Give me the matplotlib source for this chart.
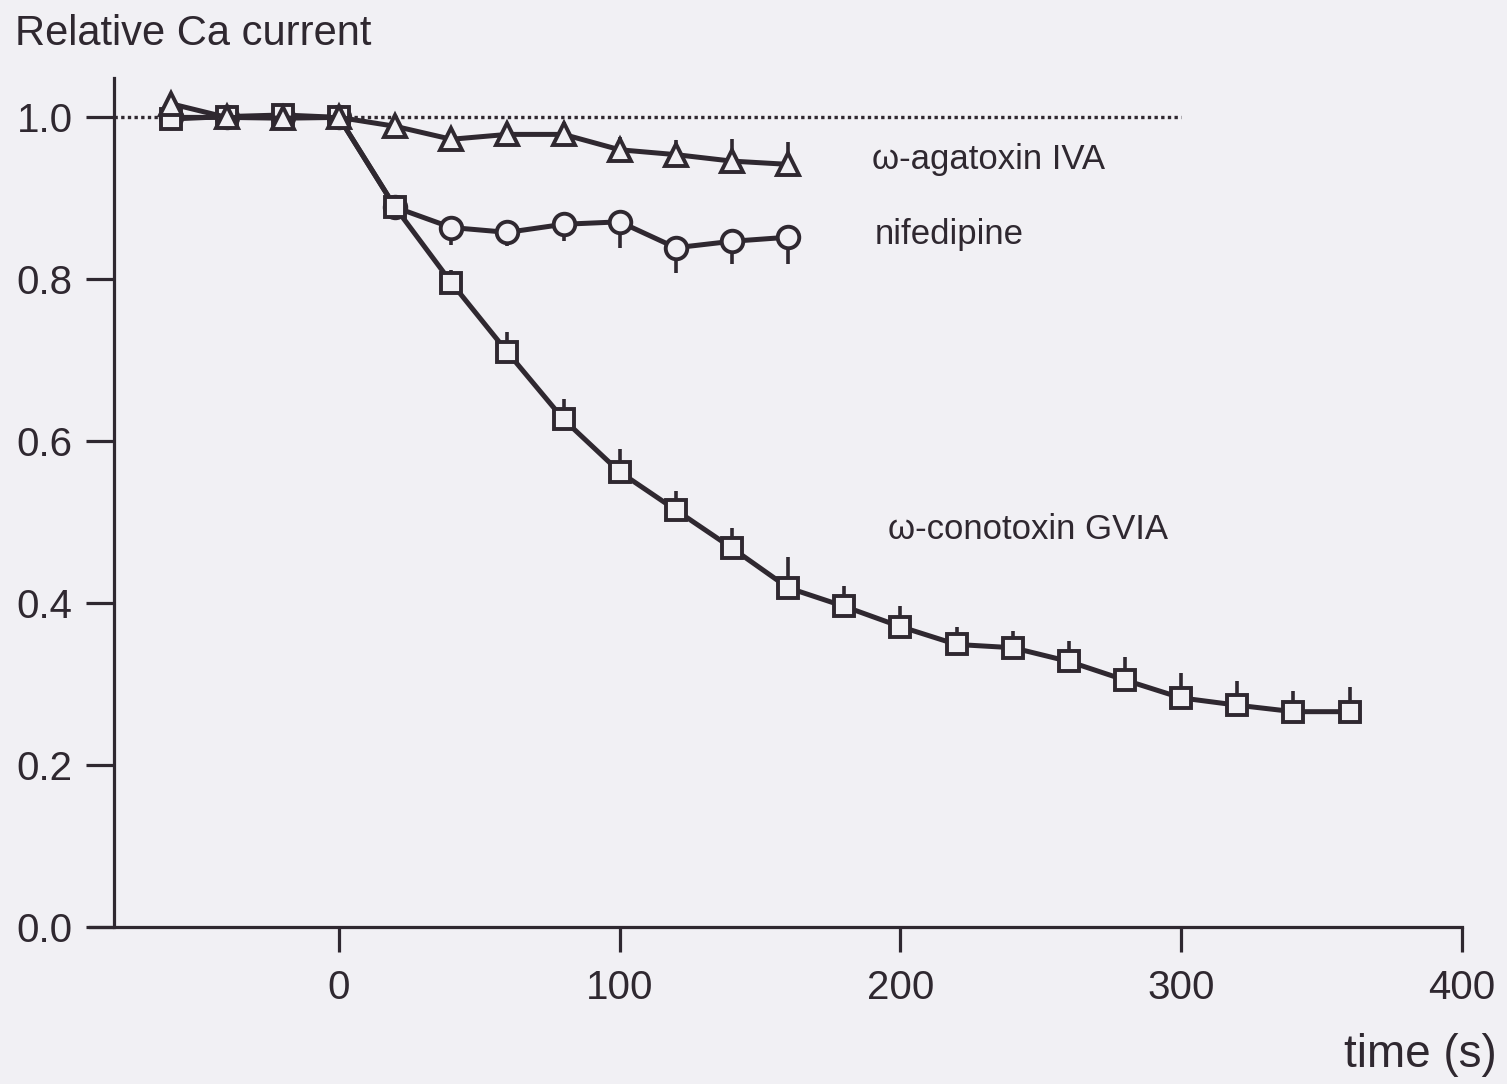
import numpy as np
import matplotlib
matplotlib.use('Agg')
import matplotlib.pyplot as plt

plt.rcParams['font.family'] = ['Liberation Sans', 'DejaVu Sans']

# time points (s)
t_cono = np.array([-60, -40, -20, 0, 20, 40, 60, 80, 100, 120, 140, 160, 180,
                   200, 220, 240, 260, 280, 300, 320, 340, 360])
t_short = np.array([-60, -40, -20, 0, 20, 40, 60, 80, 100, 120, 140, 160])

# omega-conotoxin GVIA
cono = np.array([0.998, 1.001, 1.003, 1.0, 0.889, 0.796, 0.710, 0.627, 0.562,
                 0.515, 0.468, 0.419, 0.396, 0.371, 0.349, 0.345, 0.328, 0.305,
                 0.283, 0.274, 0.266, 0.266])
cono_err = np.array([0, 0, 0, 0, 0, 0.016, 0.025, 0.025, 0.028, 0.024, 0.025,
                     0.038, 0.025, 0.025, 0.021, 0.021, 0.025, 0.028, 0.031,
                     0.030, 0.026, 0.031])

# omega-agatoxin IVA
aga = np.array([1.017, 1.0, 0.999, 1.0, 0.989, 0.973, 0.979, 0.979, 0.960,
                0.954, 0.946, 0.942])
aga_err = np.array([0, 0, 0, 0, 0, 0, 0.012, 0.015, 0.016, 0.018, 0.027, 0.027])

# nifedipine
nif = np.array([1.0, 1.0, 1.0, 1.0, 0.889, 0.864, 0.858, 0.868, 0.871, 0.839,
                0.847, 0.852])
nif_err = np.array([0.012, 0, 0, 0, 0.012, 0.021, 0.017, 0.021, 0.032, 0.031,
                    0.028, 0.033])

bg = '#f1f0f4'
ink = '#2f2830'

fig = plt.figure(figsize=(15.07, 10.84), dpi=100, facecolor=bg)
ax = fig.add_axes([0.0597, 0.1448, 0.9104, 0.7835])
ax.set_facecolor(bg)

# reference level
ax.plot([-80, 300], [1.0, 1.0], color=ink, lw=2.4, ls=(0, (1.0, 1.0)), zorder=1)

zeros = np.zeros_like(t_short)
ax.errorbar(t_short, nif, yerr=[nif_err, zeros], fmt='none', ecolor=ink,
            elinewidth=2.6, capsize=0, zorder=2)
ax.errorbar(t_cono, cono, yerr=[np.zeros_like(t_cono), cono_err], fmt='none',
            ecolor=ink, elinewidth=2.6, capsize=0, zorder=2)
ax.errorbar(t_short, aga, yerr=[zeros, aga_err], fmt='none', ecolor=ink,
            elinewidth=2.6, capsize=0, zorder=2)

style = dict(color=ink, lw=3.6, markerfacecolor=bg, markeredgecolor=ink,
             markeredgewidth=2.8)
ax.plot(t_short, nif, marker='o', ms=15.5, zorder=3, **style)
ax.plot(t_cono, cono, marker='s', ms=15, zorder=4, **style)
ax.plot(t_short, aga, marker='^', ms=16, zorder=5, **style)

ax.text(190, 0.948, 'ω-agatoxin IVA', fontsize=25, color=ink, va='center')
ax.text(191, 0.855, 'nifedipine', fontsize=25, color=ink, va='center')
ax.text(195.5, 0.491, 'ω-conotoxin GVIA', fontsize=25, color=ink, va='center')

ax.set_xlim(-88.7, 400)
ax.set_ylim(0, 1.049)

for s in ['top', 'right']:
    ax.spines[s].set_visible(False)
ax.spines['left'].set_position(('data', -80))
ax.spines['left'].set_color(ink)
ax.spines['bottom'].set_color(ink)
ax.spines['left'].set_linewidth(2.3)
ax.spines['bottom'].set_linewidth(2.3)

ax.set_xticks([0, 100, 200, 300, 400])
ax.set_yticks([0.0, 0.2, 0.4, 0.6, 0.8, 1.0])
ax.set_yticklabels(['0.0', '0.2', '0.4', '0.6', '0.8', '1.0'])
ax.tick_params(axis='x', direction='out', length=18, width=2.3, color=ink,
               labelsize=29, labelcolor=ink, pad=12)
ax.tick_params(axis='y', direction='out', length=20, width=2.3, color=ink,
               labelsize=29, labelcolor=ink, pad=10)

fig.text(0.01, 0.9686, 'Relative Ca current', fontsize=30, color=ink,
         ha='left', va='center')
fig.text(0.9934, 0.0268, 'time (s)', fontsize=33, color=ink,
         ha='right', va='center')

fig.savefig('out.png', dpi=100, facecolor=bg)
